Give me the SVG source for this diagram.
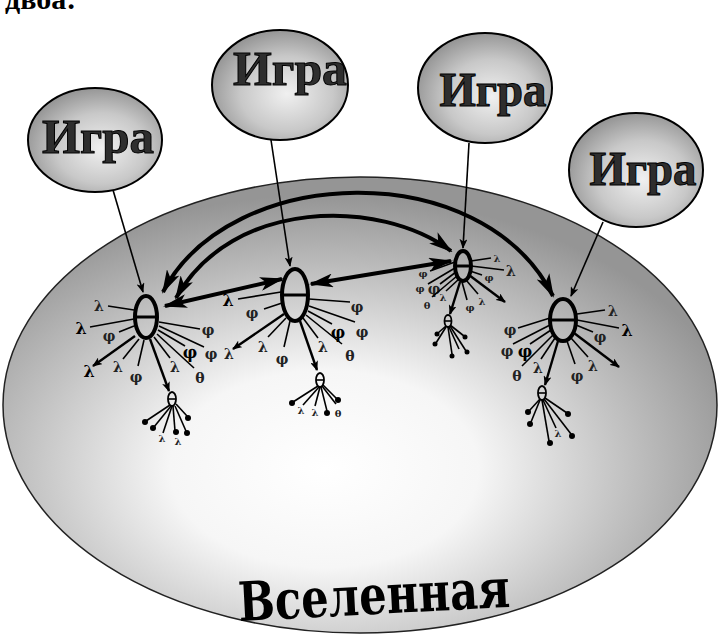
<svg xmlns="http://www.w3.org/2000/svg" width="720" height="635" viewBox="0 0 720 635">
<defs>
<radialGradient id="uni" cx="0.45" cy="0.64" r="0.6">
<stop offset="0" stop-color="#ffffff"/>
<stop offset="0.36" stop-color="#f6f6f6"/>
<stop offset="0.7" stop-color="#c2c2c2"/>
<stop offset="1" stop-color="#959595"/>
</radialGradient>
<radialGradient id="game" cx="0.55" cy="0.58" r="0.62">
<stop offset="0" stop-color="#f0f0f0"/>
<stop offset="0.55" stop-color="#c8c8c8"/>
<stop offset="1" stop-color="#8e8e8e"/>
</radialGradient>
<marker id="big" viewBox="0 0 24 14" refX="22" refY="7" markerWidth="24" markerHeight="14" markerUnits="userSpaceOnUse" orient="auto-start-reverse">
<path d="M0,0 L24,7 L0,14 L6,7 z" fill="#000"/>
</marker>
<marker id="sm" viewBox="0 0 10 8" refX="9" refY="4" markerWidth="10" markerHeight="8" markerUnits="userSpaceOnUse" orient="auto">
<path d="M0,0 L10,4 L0,8 L2.5,4 z" fill="#000"/>
</marker>
</defs>
<style>
.head{font-family:"Liberation Serif","DejaVu Serif",serif;font-weight:bold;font-size:30px;fill:#000}
.uni{font-family:"DejaVu Serif","Liberation Serif",serif;font-weight:bold;font-size:54px;fill:#000;text-anchor:middle}
.game{fill:url(#game);stroke:#000;stroke-width:2}
.gtxt{font-family:"Liberation Serif","DejaVu Serif",serif;font-weight:bold;font-size:48px;fill:#2e2e2e;stroke:#000;stroke-width:1;text-anchor:middle}
.th{fill:none;stroke:#000;stroke-width:4}
.thl{stroke:#000;stroke-width:3}
.thc{fill:none;stroke:#000;stroke-width:1.8}
.ray{stroke:#000;stroke-width:1.6;fill:none}
.rayb{stroke:#000;stroke-width:2.4;fill:none}
.sym{font-family:"DejaVu Serif",serif;font-weight:bold;font-size:14px;fill:#222;text-anchor:middle}
.symd{font-family:"DejaVu Serif",serif;font-weight:bold;font-size:16px;fill:#000;text-anchor:middle}
.syms{font-family:"DejaVu Serif",serif;font-weight:bold;font-size:10px;fill:#222;text-anchor:middle}
.dot{fill:#000}
.link{fill:none;stroke:#000;stroke-width:4}
.feed{fill:none;stroke:#000;stroke-width:1.6}
</style>

<text class="head" x="5" y="9">двоа:</text>

<g id="universe">
<ellipse cx="360" cy="405" rx="357" ry="228" fill="url(#uni)" stroke="#222" stroke-width="1.5"/>
<text class="uni" x="375" y="614" textLength="272" lengthAdjust="spacingAndGlyphs" transform="rotate(-3 375 614)">Вселенная</text>
</g>

<g id="game1"><ellipse class="game" cx="95" cy="140" rx="67" ry="52"/><text class="gtxt" x="98" y="153" textLength="112" lengthAdjust="spacingAndGlyphs">Игра</text></g>
<g id="game2"><ellipse class="game" cx="280" cy="85" rx="68" ry="55"/><text class="gtxt" x="290" y="85" textLength="114" lengthAdjust="spacingAndGlyphs">Игра</text></g>
<g id="game3"><ellipse class="game" cx="485" cy="88" rx="67" ry="55"/><text class="gtxt" x="493" y="106" textLength="107" lengthAdjust="spacingAndGlyphs">Игра</text></g>
<g id="game4"><ellipse class="game" cx="636" cy="170" rx="67" ry="57"/><text class="gtxt" x="643" y="185" textLength="107" lengthAdjust="spacingAndGlyphs">Игра</text></g>

<g id="connectors">
<line class="feed" x1="113" y1="190" x2="143" y2="292" marker-end="url(#sm)"/>
<line class="feed" x1="271" y1="140" x2="290" y2="266" marker-end="url(#sm)"/>
<line class="feed" x1="469" y1="143" x2="463" y2="248" marker-end="url(#sm)"/>
<line class="feed" x1="603" y1="222" x2="571" y2="296" marker-end="url(#sm)"/>
<path class="link" d="M163,292 C230,163 482,155 553,296" marker-start="url(#big)" marker-end="url(#big)"/>
<path class="link" d="M176,298 C232,198 380,198 451,251" marker-start="url(#big)" marker-end="url(#big)"/>
<line class="link" x1="165" y1="306" x2="282" y2="279" marker-start="url(#big)" marker-end="url(#big)"/>
<line class="link" x1="311" y1="284" x2="451" y2="261" marker-start="url(#big)" marker-end="url(#big)"/>
</g>

<g id="theta-a">
<ellipse class="th" cx="146" cy="317" rx="11" ry="21"/><line class="thl" x1="136" y1="317" x2="156" y2="317"/>
<line class="ray" x1="134" y1="310" x2="108" y2="306"/><text class="sym" x="99" y="311">λ</text>
<line class="ray" x1="134" y1="319" x2="90" y2="327"/><text class="symd" x="81" y="334">λ</text>
<line class="ray" x1="134" y1="326" x2="119" y2="332"/><text class="sym" x="109" y="341">φ</text>
<line class="rayb" x1="135" y1="336" x2="93" y2="366" marker-end="url(#sm)"/><text class="symd" x="89" y="377">λ</text>
<line class="ray" x1="139" y1="339" x2="123" y2="359"/><text class="sym" x="118" y="372">λ</text>
<line class="ray" x1="144" y1="340" x2="138" y2="366"/><text class="sym" x="136" y="382">φ</text>
<line class="rayb" x1="150" y1="339" x2="169" y2="391" marker-end="url(#sm)"/>
<line class="ray" x1="154" y1="337" x2="170" y2="358"/><text class="sym" x="175" y="372">λ</text>
<line class="ray" x1="157" y1="334" x2="194" y2="368"/><text class="sym" x="200" y="383">θ</text>
<line class="ray" x1="158" y1="330" x2="185" y2="346"/><text class="symd" x="190" y="358">φ</text>
<line class="ray" x1="159" y1="326" x2="204" y2="347"/><text class="sym" x="211" y="359">φ</text>
<line class="ray" x1="159" y1="322" x2="200" y2="329"/><text class="sym" x="208" y="335">φ</text>
</g>
<g id="theta-a1">
<ellipse class="thc" cx="172" cy="399" rx="4" ry="7"/><line class="ray" x1="168" y1="399" x2="176" y2="399"/>
<line class="ray" x1="170" y1="405" x2="146" y2="421"/><circle class="dot" cx="145" cy="422" r="3"/>
<line class="ray" x1="171" y1="406" x2="154" y2="427"/><circle class="dot" cx="153" cy="428" r="3"/>
<line class="ray" x1="172" y1="406" x2="163" y2="433"/><text class="syms" x="162" y="442">λ</text>
<line class="ray" x1="173" y1="406" x2="175" y2="431"/><circle class="dot" cx="176" cy="432" r="3"/>
<line class="ray" x1="175" y1="406" x2="186" y2="431"/><circle class="dot" cx="187" cy="433" r="3"/>
<line class="ray" x1="176" y1="404" x2="187" y2="416"/><circle class="dot" cx="188" cy="418" r="3"/>
<text class="syms" x="178" y="445">λ</text>
</g>

<g id="theta-b">
<ellipse class="th" cx="295" cy="295" rx="13" ry="26"/><line class="thl" x1="283" y1="295" x2="307" y2="295"/>
<line class="ray" x1="281" y1="292" x2="238" y2="299"/><text class="symd" x="228" y="306">λ</text>
<line class="ray" x1="282" y1="303" x2="264" y2="309"/><text class="sym" x="252" y="318">φ</text>
<line class="rayb" x1="284" y1="314" x2="233" y2="349" marker-end="url(#sm)"/><text class="sym" x="229" y="359">λ</text>
<line class="ray" x1="286" y1="318" x2="268" y2="337"/><text class="sym" x="263" y="352">λ</text>
<line class="ray" x1="290" y1="321" x2="284" y2="347"/><text class="sym" x="282" y="364">φ</text>
<line class="rayb" x1="300" y1="321" x2="317" y2="370" marker-end="url(#sm)"/>
<line class="ray" x1="303" y1="318" x2="318" y2="338"/><text class="sym" x="323" y="352">λ</text>
<line class="ray" x1="306" y1="315" x2="342" y2="344"/><text class="sym" x="350" y="361">θ</text>
<line class="ray" x1="308" y1="311" x2="332" y2="324"/><text class="symd" x="338" y="338">φ</text>
<line class="ray" x1="309" y1="306" x2="355" y2="322"/><text class="sym" x="362" y="337">φ</text>
<line class="ray" x1="309" y1="299" x2="350" y2="302"/><text class="sym" x="357" y="312">φ</text>
</g>
<g id="theta-b1">
<ellipse class="thc" cx="320" cy="380" rx="4" ry="7"/><line class="ray" x1="316" y1="380" x2="324" y2="380"/>
<line class="ray" x1="318" y1="386" x2="293" y2="402"/><circle class="dot" cx="292" cy="403" r="3"/>
<line class="ray" x1="319" y1="387" x2="303" y2="405"/><text class="syms" x="301" y="414">λ</text>
<line class="ray" x1="320" y1="387" x2="315" y2="406"/><text class="syms" x="315" y="416">λ</text>
<line class="ray" x1="321" y1="387" x2="327" y2="411"/><circle class="dot" cx="327" cy="413" r="3"/>
<line class="ray" x1="322" y1="386" x2="336" y2="404"/><text class="syms" x="338" y="417">θ</text>
<line class="ray" x1="323" y1="385" x2="337" y2="399"/><circle class="dot" cx="338" cy="400" r="3"/>
</g>

<g id="theta-c">
<ellipse class="th" cx="463" cy="266" rx="8" ry="15" stroke-width="3.2"/><line class="thl" x1="456" y1="266" x2="470" y2="266" stroke-width="2.4"/>
<line class="ray" x1="471" y1="261" x2="491" y2="258"/><text class="syms" x="497" y="262">λ</text>
<line class="ray" x1="471" y1="266" x2="504" y2="270"/><text class="sym" x="511" y="276">λ</text>
<line class="ray" x1="470" y1="271" x2="482" y2="275"/><text class="syms" x="489" y="281">φ</text>
<line class="rayb" x1="469" y1="275" x2="505" y2="302" marker-end="url(#sm)"/>
<line class="ray" x1="466" y1="280" x2="478" y2="294"/><text class="syms" x="482" y="305">λ</text>
<line class="ray" x1="462" y1="282" x2="467" y2="300"/><text class="syms" x="470" y="311">φ</text>
<line class="ray" x1="455" y1="262" x2="430" y2="271"/><text class="syms" x="423" y="277">φ</text>
<line class="ray" x1="455" y1="268" x2="428" y2="284"/><text class="syms" x="420" y="292">φ</text>
<line class="ray" x1="456" y1="272" x2="440" y2="284"/><text class="sym" x="434" y="294">φ</text>
<line class="ray" x1="457" y1="276" x2="432" y2="297"/><text class="syms" x="427" y="309">θ</text>
<line class="ray" x1="459" y1="279" x2="446" y2="291"/><text class="syms" x="443" y="301">λ</text>
<line class="rayb" x1="460" y1="282" x2="450" y2="314" marker-end="url(#sm)"/>
</g>
<g id="theta-c1">
<ellipse class="thc" cx="448" cy="321" rx="3.5" ry="6" stroke-width="1.5"/><line class="ray" x1="445" y1="321" x2="451" y2="321"/>
<line class="ray" x1="446" y1="326" x2="438" y2="333"/><circle class="dot" cx="437" cy="334" r="2.5"/>
<line class="ray" x1="446" y1="327" x2="436" y2="343"/><circle class="dot" cx="435" cy="344" r="2.5"/>
<line class="ray" x1="448" y1="327" x2="452" y2="354"/><circle class="dot" cx="452" cy="356" r="2.5"/>
<line class="ray" x1="449" y1="327" x2="459" y2="349"/>
<line class="ray" x1="450" y1="326" x2="466" y2="351"/><circle class="dot" cx="467" cy="352" r="2.5"/>
<line class="ray" x1="450" y1="325" x2="464" y2="336"/><circle class="dot" cx="465" cy="337" r="2.5"/>
</g>

<g id="theta-d">
<ellipse class="th" cx="563" cy="320" rx="13" ry="21"/><line class="thl" x1="551" y1="320" x2="575" y2="320"/>
<line class="ray" x1="577" y1="314" x2="605" y2="310"/><text class="sym" x="613" y="316">λ</text>
<line class="ray" x1="577" y1="320" x2="619" y2="328"/><text class="symd" x="627" y="336">λ</text>
<line class="ray" x1="576" y1="325" x2="593" y2="332"/><text class="sym" x="600" y="342">φ</text>
<line class="rayb" x1="574" y1="333" x2="619" y2="367" marker-end="url(#sm)"/>
<line class="ray" x1="571" y1="338" x2="588" y2="357"/><text class="sym" x="593" y="371">λ</text>
<line class="ray" x1="567" y1="341" x2="575" y2="364"/><text class="sym" x="577" y="381">φ</text>
<line class="ray" x1="550" y1="318" x2="518" y2="328"/><text class="sym" x="510" y="335">φ</text>
<line class="ray" x1="550" y1="325" x2="513" y2="344"/><text class="sym" x="507" y="356">φ</text>
<line class="ray" x1="551" y1="330" x2="530" y2="344"/><text class="symd" x="525" y="357">φ</text>
<line class="ray" x1="553" y1="335" x2="522" y2="366"/><text class="sym" x="517" y="381">θ</text>
<line class="ray" x1="555" y1="338" x2="541" y2="359"/><text class="sym" x="538" y="373">λ</text>
<line class="rayb" x1="558" y1="341" x2="545" y2="385" marker-end="url(#sm)"/>
</g>
<g id="theta-d1">
<ellipse class="thc" cx="542" cy="393" rx="4" ry="7"/><line class="ray" x1="538" y1="393" x2="546" y2="393"/>
<line class="ray" x1="540" y1="399" x2="529" y2="411"/><circle class="dot" cx="528" cy="412" r="3"/>
<line class="ray" x1="540" y1="400" x2="531" y2="422"/><circle class="dot" cx="530" cy="424" r="3"/>
<line class="ray" x1="542" y1="400" x2="549" y2="441"/><circle class="dot" cx="550" cy="443" r="3"/>
<line class="ray" x1="543" y1="400" x2="556" y2="428"/><text class="syms" x="558" y="437">λ</text>
<line class="ray" x1="544" y1="399" x2="571" y2="434"/><circle class="dot" cx="572" cy="436" r="3"/>
<line class="ray" x1="545" y1="398" x2="567" y2="413"/><circle class="dot" cx="568" cy="414" r="3"/>
</g>
</svg>
